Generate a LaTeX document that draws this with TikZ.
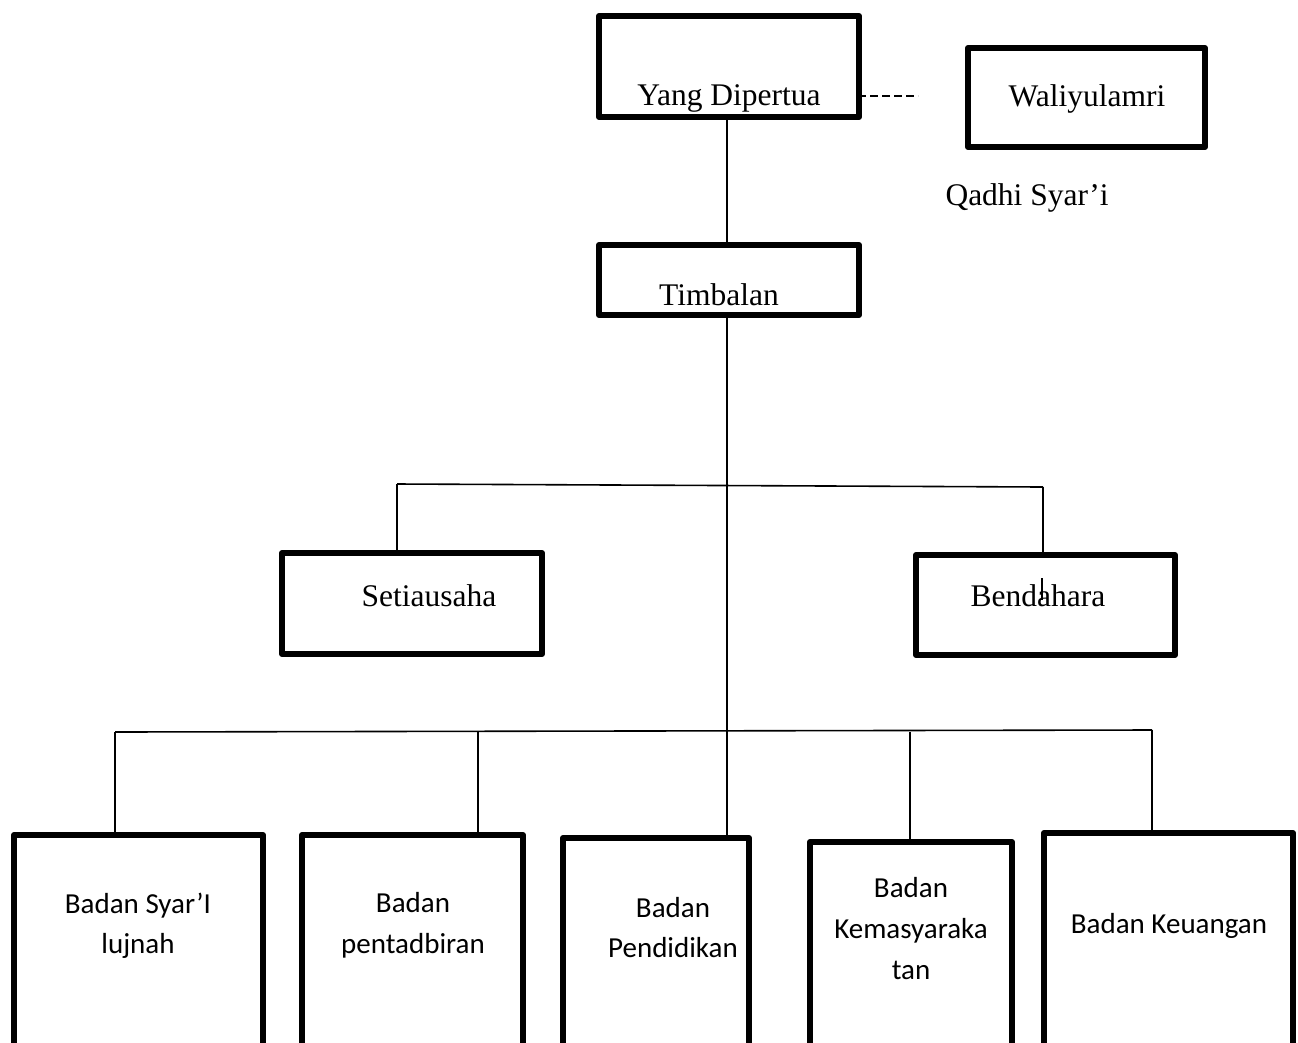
\documentclass[tikz,border=0pt]{standalone}
\usepackage{fontspec}
\usetikzlibrary{calc}
\setmainfont{Liberation Serif}
\newfontfamily\calfont{Carlito}
\begin{document}
\begin{tikzpicture}[x=1pt,y=-1pt,
  box/.style={draw,line width=6pt,line join=round,rectangle,inner sep=0pt,outer sep=0pt},
  conn/.style={draw,line width=1.6pt},
  ttext/.style={font=\fontsize{31.5}{38}\selectfont,anchor=base,inner sep=0pt},
  ctext/.style={font=\calfont\fontsize{29}{40}\selectfont,anchor=base,inner sep=0pt}]
\useasboundingbox (0,0) rectangle (1298,1042);
\clip (0,0) rectangle (1298,1042);
\fill[white] (0,0) rectangle (1298,1042);

% boxes
\node[box,minimum width=260pt,minimum height=101pt] (yd) at (729,66.5) {};
\node[box,minimum width=237pt,minimum height=99pt] (wali) at (1086.5,97.5) {};
\node[box,minimum width=260pt,minimum height=70pt] (tb) at (729,280) {};
\node[box,minimum width=260pt,minimum height=101pt] (set) at (412,603.5) {};
\node[box,minimum width=259pt,minimum height=100pt] (ben) at (1045.5,605) {};
\node[box,minimum width=249pt,minimum height=265pt] (syar) at (138.5,967.5) {};
\node[box,minimum width=221pt,minimum height=265pt] (pent) at (412.5,967.5) {};
\node[box,minimum width=186pt,minimum height=262pt] (pend) at (656,969) {};
\node[box,minimum width=202pt,minimum height=258pt] (kem) at (911,971) {};
\node[box,minimum width=249pt,minimum height=267pt] (keu) at (1168.5,966.5) {};

% texts
\node[ttext] (tyd) at (729,105) {Yang Dipertua};
\node[ttext] (twali) at (1087,106) {Waliyulamri};
\node[ttext] (tqadhi) at (1027,205) {Qadhi Syar’i};
\node[ttext] (ttb) at (719,305) {Timbalan};
\node[ttext] (tset) at (429,606) {Setiausaha};
\node[ttext] (tben) at (1038,606) {Bendahara};

\node[ctext] (ts1) at (138,913) {Badan Syar’I};
\node[ctext] (ts2) at (138,953) {lujnah};
\node[ctext] (tp1) at (413,912) {Badan};
\node[ctext] (tp2) at (413,953) {pentadbiran};
\node[ctext] (td1) at (673,917) {Badan};
\node[ctext] (td2) at (673,957) {Pendidikan};
\node[ctext] (tk1) at (911,897) {Badan};
\node[ctext] (tk2) at (911,938) {Kemasyaraka};
\node[ctext] (tk3) at (911,979) {tan};
\node[ctext] (tu1) at (1169,933) {Badan Keuangan};

% coordinates
\coordinate (trunk) at (727,0);
\coordinate (b1L) at (397,484);
\coordinate (b1R) at (1043,487);
\coordinate (b2L) at (115,732);
\coordinate (b2R) at (1152,730);
\coordinate (c2) at (478,731);
\coordinate (c4) at (910,732);
\coordinate (dashA) at (858,96);
\coordinate (dashB) at (918,96);
\coordinate (tickA) at (1042,578);
\coordinate (tickB) at (1042,600);

% connectors
\draw[conn] (yd.south -| trunk) -- (tb.north -| trunk);
\draw[conn] (tb.south -| trunk) -- (pend.north -| trunk);
\draw[conn] (b1L) -- (b1R);
\draw[conn] (b1L) -- (b1L |- set.north);
\draw[conn] (b1R) -- (b1R |- ben.north);
\draw[conn] (b2L) -- (b2R);
\draw[conn] (b2L) -- (b2L |- syar.north);
\draw[conn] (c2) -- ($(c2 |- pent.north)+(0,3)$);
\draw[conn] (c4) -- (c4 |- kem.north);
\draw[conn] (b2R) -- (b2R |- keu.north);
\draw[line width=1.6pt,dash pattern=on 8pt off 4pt] (dashA) -- (dashB);
\draw[line width=1.2pt] (tickA) -- (tickB);
\end{tikzpicture}
\end{document}
